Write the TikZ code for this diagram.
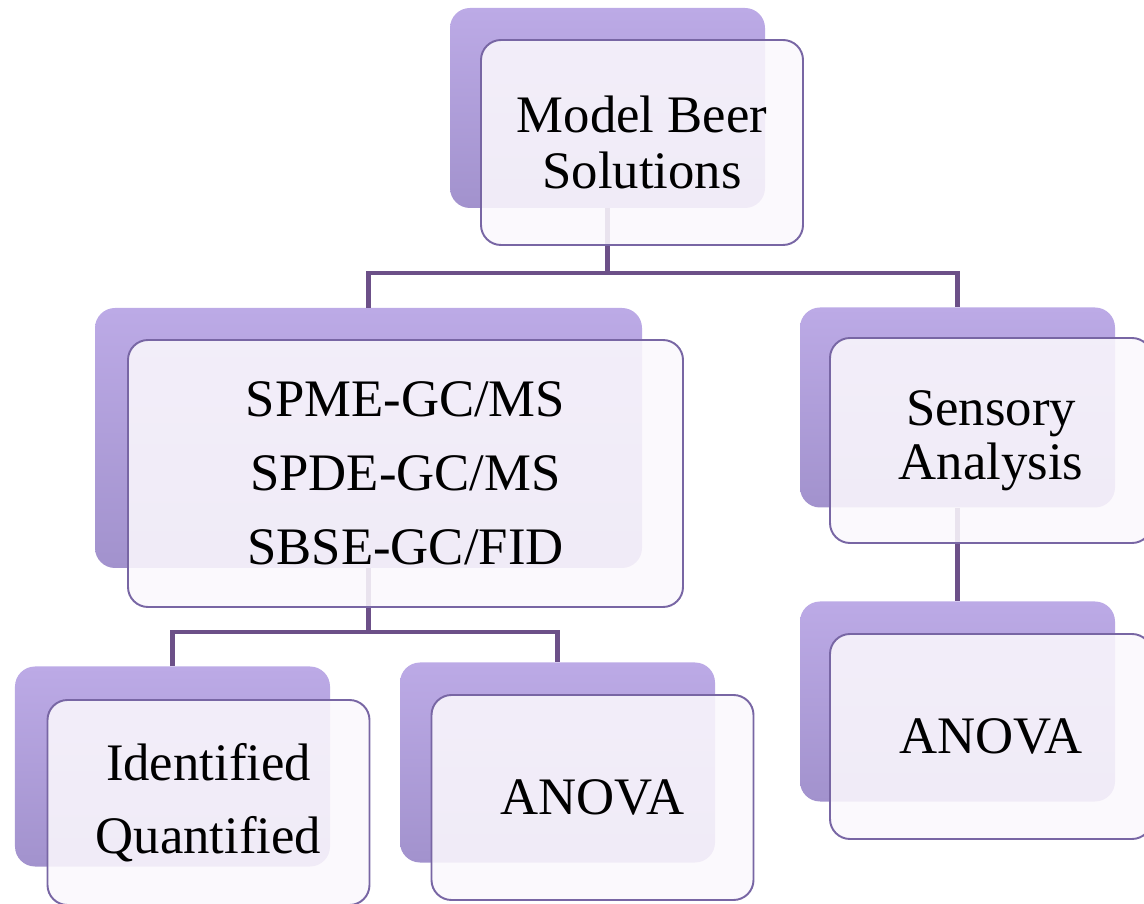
\documentclass[tikz,border=0pt]{standalone}
\usepackage{fontspec}
\setmainfont{Liberation Serif}
\usetikzlibrary{positioning}
\definecolor{backtop}{RGB}{188,170,230}
\definecolor{backbot}{RGB}{162,146,205}
\definecolor{frontfill}{RGB}{251,248,253}
\definecolor{frontline}{RGB}{120,102,164}
\definecolor{linkcol}{RGB}{108,80,136}
\tikzset{
  backbox/.style={rounded corners=0.4cm, top color=backtop, bottom color=backbot,
    minimum width=6.3cm, minimum height=4cm, inner sep=0pt},
  frontbox/.style={draw=frontline, line width=1.1pt, rounded corners=0.4cm,
    fill=frontfill, fill opacity=0.88, text opacity=1, align=center,
    minimum width=6.44cm, minimum height=4.1cm, inner sep=0pt},
  link/.style={draw=linkcol, line width=2.3pt},
}
\begin{document}
\begin{tikzpicture}[scale=1]
\useasboundingbox (0,0) rectangle (22.88,18.06);

% Back plates
\node[backbox] (tb) at (12.15,15.9) {};
\node[backbox, minimum width=10.94cm, minimum height=5.2cm] (lb) at (7.37,9.30) {};
\node[backbox] (rb) at (19.15,9.91) {};
\node[backbox] (qb) at (3.45,2.73) {};
\node[backbox] (ab) at (11.15,2.81) {};
\node[backbox] (sb) at (19.15,4.03) {};

% Links: top to second row
\coordinate (j1) at (12.15,12.6);
\draw[link] (tb.south) -- (j1);
\draw[link] (lb.north) |- (j1) -| (rb.north);

% Links: methods to results
\coordinate (j2) at (7.37,5.42);
\draw[link] (lb.south) -- (j2);
\draw[link] (qb.north) |- (j2) -| (ab.north);

% Link: sensory to anova
\draw[link] (rb.south) -- (sb.north);

% Front cards
\node[frontbox, font=\fontsize{30}{31.5}\selectfont] (tf) at (12.84,15.21) {Model Beer\\Solutions};
\node[frontbox, minimum width=11.1cm, minimum height=5.34cm,
  font=\fontsize{30}{42}\selectfont] (lf) at (8.11,8.59) {SPME-GC/MS\\SPDE-GC/MS\\SBSE-GC/FID};
\node[frontbox, font=\fontsize{30}{30.5}\selectfont] (rf) at (19.82,9.25) {Sensory\\Analysis};
\node[frontbox, font=\fontsize{30}{41.5}\selectfont] (qf) at (4.17,2.01) {Identified\\Quantified};
\node[frontbox, font=\fontsize{30}{31}\selectfont] (af) at (11.85,2.11) {ANOVA};
\node[frontbox, font=\fontsize{30}{31}\selectfont] (sf) at (19.82,3.33) {ANOVA};

\end{tikzpicture}
\end{document}
